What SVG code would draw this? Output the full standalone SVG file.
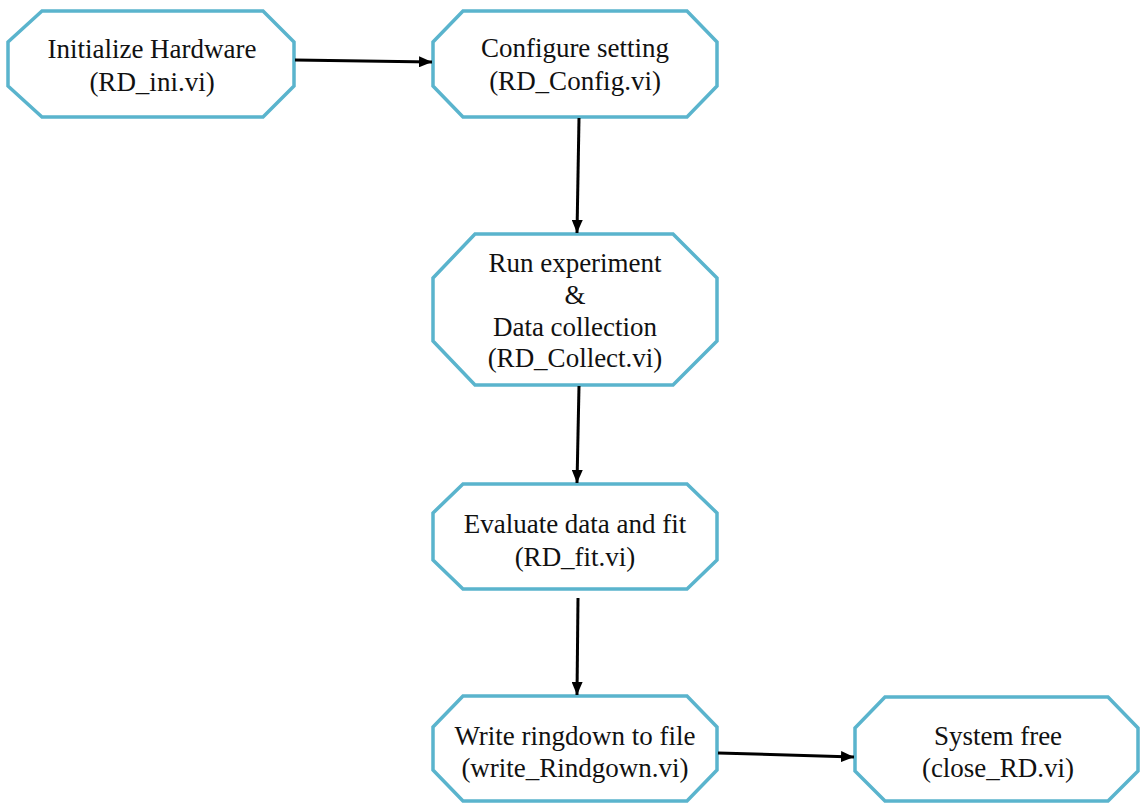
<svg xmlns="http://www.w3.org/2000/svg" width="1141" height="803" viewBox="0 0 1141 803">
<style>
.node polygon{fill:#ffffff;stroke:#5ab4cd;stroke-width:3.5;stroke-linejoin:miter}
.node text{font-family:"Liberation Serif","Times New Roman",serif;font-size:27px;fill:#111;text-anchor:middle}
.edge{stroke:#000;stroke-width:3;fill:none;marker-end:url(#ah)}
</style>
<defs>
<marker id="ah" markerUnits="userSpaceOnUse" markerWidth="13" markerHeight="11" refX="13" refY="5.5" orient="auto">
<path d="M0,0 L13,5.5 L0,11 z" fill="#000"/>
</marker>
</defs>
<rect width="1141" height="803" fill="#ffffff"/>
<g id="n1" class="node">
<polygon points="42,11 263,11 294,42 294,86 263,117 42,117 8,86 8,42"/>
<text x="152" y="58">Initialize Hardware</text>
<text x="152" y="91">(RD_ini.vi)</text>
</g>
<g id="n2" class="node">
<polygon points="463,11 687,11 717,42 717,86 687,117 463,117 433,86 433,42"/>
<text x="575" y="57">Configure setting</text>
<text x="575" y="90">(RD_Config.vi)</text>
</g>
<g id="n3" class="node">
<polygon points="475,234 673,234 717,278 717,341 673,385 475,385 433,341 433,278"/>
<text x="575" y="272">Run experiment</text>
<text x="575" y="304">&amp;</text>
<text x="575" y="336">Data collection</text>
<text x="575" y="367">(RD_Collect.vi)</text>
</g>
<g id="n4" class="node">
<polygon points="463,484 687,484 717,513 717,560 687,589 463,589 433,560 433,513"/>
<text x="575" y="533">Evaluate data and fit</text>
<text x="575" y="566">(RD_fit.vi)</text>
</g>
<g id="n5" class="node">
<polygon points="463,696 687,696 717,727 717,770 687,801 463,801 433,770 433,727"/>
<text x="575" y="745">Write ringdown to file</text>
<text x="575" y="777">(write_Rindgown.vi)</text>
</g>
<g id="n6" class="node">
<polygon points="885,697 1108,697 1138,728 1138,771 1108,801 885,801 855,771 855,728"/>
<text x="998" y="745">System free</text>
<text x="998" y="777">(close_RD.vi)</text>
</g>
<g id="connectors">
<line class="edge" x1="295" y1="60" x2="432" y2="62"/>
<line class="edge" x1="579" y1="118" x2="577" y2="233"/>
<line class="edge" x1="579" y1="386" x2="577" y2="483"/>
<line class="edge" x1="578" y1="598" x2="577" y2="695"/>
<line class="edge" x1="718" y1="753" x2="854" y2="757"/>
</g>
</svg>
